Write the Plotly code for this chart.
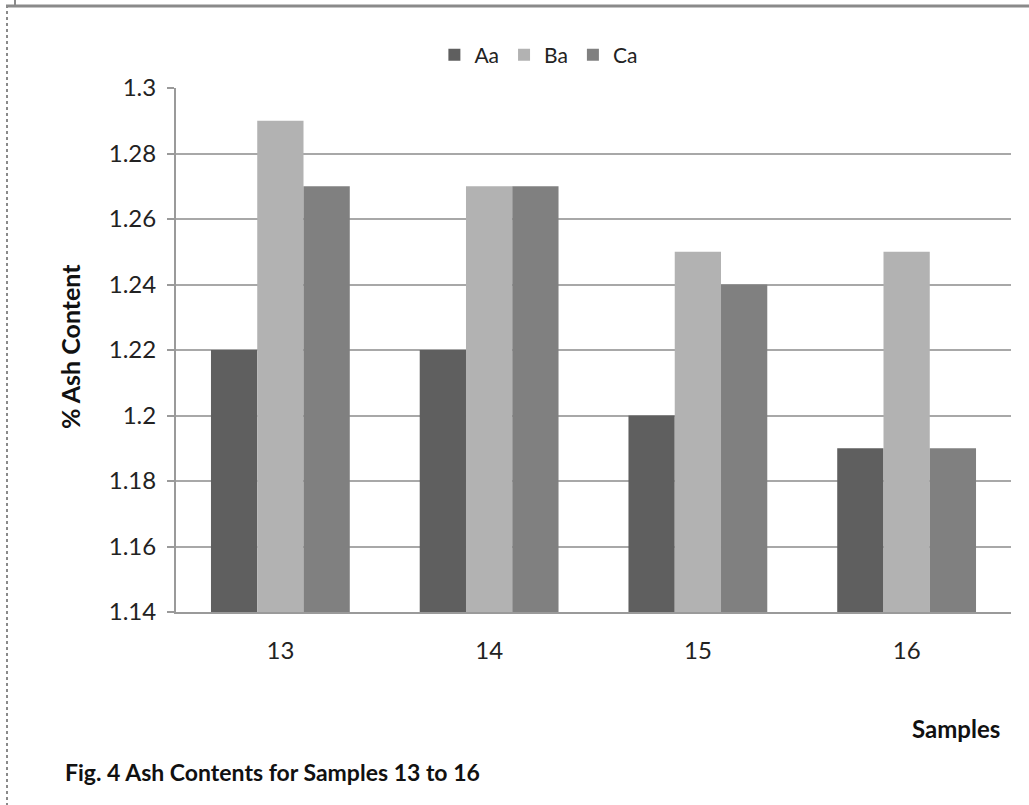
import plotly.graph_objects as go

# Ash content (%) per sample for each series
samples = ["13", "14", "15", "16"]
aa_values = [1.22, 1.22, 1.20, 1.19]
ba_values = [1.29, 1.27, 1.25, 1.25]
ca_values = [1.27, 1.27, 1.24, 1.19]
y_ticks = [1.14, 1.16, 1.18, 1.2, 1.22, 1.24, 1.26, 1.28, 1.3]
y_tick_text = ["1.14", "1.16", "1.18", "1.2", "1.22", "1.24", "1.26", "1.28", "1.3"]

series = [
    ("Aa", aa_values, "#5f5f5f"),
    ("Ba", ba_values, "#b2b2b2"),
    ("Ca", ca_values, "#808080"),
]

W, H = 1029, 805
L, R, T, B = 176, 18, 88, 193
pw, ph = W - L - R, H - T - B

def px_x(x):
    return (x - L) / pw

def px_y(y):
    return (H - B - y) / ph

FONT = "Lato, 'Open Sans', sans-serif"

fig = go.Figure()
for name, vals, color in series:
    fig.add_trace(go.Bar(
        x=samples, y=[v - 1.14 for v in vals], base=1.14, name=name,
        marker=dict(color=color, line=dict(width=0)),
    ))

fig.update_layout(
    width=W, height=H,
    margin=dict(l=L, r=R, t=T, b=B),
    paper_bgcolor="white", plot_bgcolor="white",
    barmode="group", bargap=0.335, bargroupgap=0,
    font=dict(family=FONT, color="#222222", size=21),
    showlegend=True,
    legend=dict(
        orientation="h", x=0.434, y=px_y(55), xanchor="center", yanchor="middle",
        font=dict(size=21, color="#222222"), itemwidth=30, traceorder="normal",
        bgcolor="rgba(0,0,0,0)",
    ),
    xaxis=dict(
        type="category", showgrid=False, showline=True, linecolor="#9a9a9a", linewidth=2,
        ticks="", tickfont=dict(size=24), ticklabelstandoff=16,
    ),
    yaxis=dict(
        range=[1.14, 1.3], tickvals=y_ticks, ticktext=y_tick_text,
        showgrid=True, gridcolor="#a8a8a8", gridwidth=2,
        showline=True, linecolor="#9a9a9a", linewidth=2,
        ticks="outside", ticklen=7, tickcolor="#9a9a9a", tickwidth=2,
        tickfont=dict(size=24), ticklabelstandoff=6, zeroline=False,
    ),
    shapes=[
        # outer chart frame
        dict(type="line", xref="paper", yref="paper", x0=px_x(6), x1=px_x(1029),
             y0=px_y(6), y1=px_y(6), line=dict(color="#8a8a8a", width=3)),
        dict(type="line", xref="paper", yref="paper", x0=px_x(7), x1=px_x(7),
             y0=px_y(5), y1=px_y(805), line=dict(color="#8a8a8a", width=2, dash="dot")),
        dict(type="line", xref="paper", yref="paper", x0=px_x(15), x1=px_x(15),
             y0=px_y(0), y1=px_y(5), line=dict(color="#8a8a8a", width=2)),
    ],
    annotations=[
        dict(text="<b>% Ash Content</b>", xref="paper", yref="paper",
             x=px_x(70), y=px_y(347), textangle=-90, showarrow=False,
             xanchor="center", yanchor="middle", font=dict(size=25, color="#111111")),
        dict(text="<b>Samples</b>", xref="paper", yref="paper",
             x=px_x(1002), y=px_y(728), showarrow=False,
             xanchor="right", yanchor="middle", font=dict(size=24, color="#111111")),
        dict(text="<b>Fig. 4 Ash Contents for Samples 13 to 16</b>", xref="paper", yref="paper",
             x=px_x(63), y=px_y(772), showarrow=False,
             xanchor="left", yanchor="middle", font=dict(size=23, color="#111111")),
    ],
)

fig.write_html("out.html")
